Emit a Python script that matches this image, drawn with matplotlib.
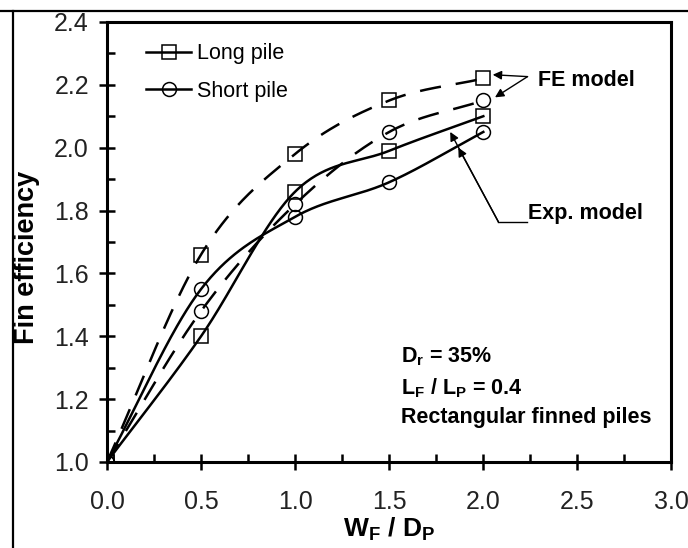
import numpy as np
import matplotlib
matplotlib.use('Agg')
from matplotlib import pyplot as plt
from matplotlib.lines import Line2D
from matplotlib.ticker import MultipleLocator, FormatStrFormatter

plt.rcParams['font.family'] = ['Liberation Sans', 'DejaVu Sans']
plt.rcParams['mathtext.fontset'] = 'custom'
plt.rcParams['mathtext.rm'] = 'Liberation Sans'
plt.rcParams['mathtext.bf'] = 'Liberation Sans:bold'

#%% data
wf_dp = [0.0, 0.5, 1.0, 1.5, 2.0]
long_fe = [1.0, 1.66, 1.98, 2.15, 2.22]
short_fe = [1.0, 1.48, 1.82, 2.05, 2.15]
long_exp = [1.0, 1.40, 1.86, 1.99, 2.10]
short_exp = [1.0, 1.55, 1.78, 1.89, 2.05]


def smooth_curve(x, y, n=60):
    # cubic hermite through the points, tangents from neighbours (catmull-rom)
    x = np.asarray(x, float)
    y = np.asarray(y, float)
    m = np.gradient(y, x)
    xs_all, ys_all = [], []
    for i in range(len(x) - 1):
        h = x[i + 1] - x[i]
        t = np.linspace(0, 1, n)
        h00 = 2 * t**3 - 3 * t**2 + 1
        h10 = t**3 - 2 * t**2 + t
        h01 = -2 * t**3 + 3 * t**2
        h11 = t**3 - t**2
        xs_all.append(x[i] + t * h)
        ys_all.append(h00 * y[i] + h10 * h * m[i] + h01 * y[i + 1] + h11 * h * m[i + 1])
    return np.concatenate(xs_all), np.concatenate(ys_all)


#%% figure
fig = plt.figure(figsize=(6.88, 5.48), dpi=100)
ax = fig.add_axes([0.1555, 0.157, 0.8205, 0.803])

lw = 1.8
dash = (8.5, 6.0)
mk = dict(linestyle='none', markersize=10, markerfacecolor='none',
          markeredgecolor='k', markeredgewidth=1.1, color='k')

for yv, ls, m in [(long_fe, '--', 's'), (short_fe, '--', 'o'),
                  (long_exp, '-', 's'), (short_exp, '-', 'o')]:
    xs, ys = smooth_curve(wf_dp, yv)
    if ls == '--':
        ax.plot(xs, ys, color='k', lw=lw, linestyle='--', dashes=dash)
    else:
        ax.plot(xs, ys, color='k', lw=lw, linestyle='-')
    ax.plot(wf_dp, yv, marker=m, **mk)

ax.set_xlim(0, 3.0)
ax.set_ylim(1.0, 2.4)
ax.xaxis.set_major_locator(MultipleLocator(0.5))
ax.xaxis.set_minor_locator(MultipleLocator(0.25))
ax.yaxis.set_major_locator(MultipleLocator(0.2))
ax.yaxis.set_minor_locator(MultipleLocator(0.1))
ax.xaxis.set_major_formatter(FormatStrFormatter('%.1f'))
ax.yaxis.set_major_formatter(FormatStrFormatter('%.1f'))
ax.tick_params(which='major', direction='inout', length=12, width=1.8,
               labelsize=18, labelcolor='#222222', top=False, right=False)
ax.tick_params(which='minor', direction='in', length=6, width=1.8,
               top=False, right=False)
ax.tick_params(axis='x', which='major', pad=14)
ax.tick_params(axis='y', which='major', pad=7)
for s in ax.spines.values():
    s.set_linewidth(2.2)

ax.set_ylabel('Fin efficiency', fontsize=19.5, fontweight='bold')
ax.yaxis.set_label_coords(-0.118, 0.466)
ax.set_xlabel(r'W$_\mathregular{F}$ / D$_\mathregular{P}$', fontsize=19,
              fontweight='bold')
ax.xaxis.set_label_coords(0.5, -0.121)

#%% legend
handles = [Line2D([], [], color='k', lw=lw, marker='s', markersize=10,
                  markerfacecolor='none', markeredgewidth=1.1),
           Line2D([], [], color='k', lw=lw, marker='o', markersize=10,
                  markerfacecolor='none', markeredgewidth=1.1)]
ax.legend(handles, ['Long pile', 'Short pile'], loc='upper left',
          bbox_to_anchor=(0.035, 0.995), frameon=False, fontsize=15.5,
          handlelength=2.1, handletextpad=0.25, labelspacing=0.75)

#%% annotations
txt_kw = dict(fontsize=15.5, fontweight='bold', color='k')
arrow_kw = dict(arrowstyle='-|>', color='k', lw=1.0, mutation_scale=13,
                shrinkA=0, shrinkB=0)

fe_text = (2.29, 2.215)
fe_from = (2.235, 2.226)
fe_tips = [(2.05, 2.232), (2.062, 2.16)]
ax.text(fe_text[0], fe_text[1], 'FE model', va='center', ha='left', **txt_kw)
for tip in fe_tips:
    ax.annotate('', xy=tip, xytext=fe_from, arrowprops=arrow_kw)

exp_text = (2.24, 1.79)
exp_corner = (2.08, 1.764)
exp_tips = [(1.824, 2.05), (1.867, 2.0)]
ax.text(exp_text[0], exp_text[1], 'Exp. model', va='center', ha='left', **txt_kw)
ax.plot([exp_corner[0], exp_text[0] - 0.01], [exp_corner[1], exp_corner[1]],
        color='k', lw=1.0)
for tip in exp_tips:
    ax.annotate('', xy=tip, xytext=exp_corner, arrowprops=arrow_kw)

ax.text(1.56, 1.334, r'D$_\mathregular{r}$ = 35%', va='center', ha='left', **txt_kw)
ax.text(1.56, 1.235, r'L$_\mathregular{F}$ / L$_\mathregular{P}$ = 0.4',
        va='center', ha='left', **txt_kw)
ax.text(1.56, 1.140, 'Rectangular finned piles', va='center', ha='left', **txt_kw)

#%% outer frame lines (top and left of the cropped figure)
fig.add_artist(Line2D([0, 1], [0.980, 0.980], transform=fig.transFigure,
                      color='k', lw=1.6))
fig.add_artist(Line2D([0.0189, 0.0189], [0, 0.980], transform=fig.transFigure,
                      color='k', lw=1.6))

fig.savefig('out.png', dpi=100)
